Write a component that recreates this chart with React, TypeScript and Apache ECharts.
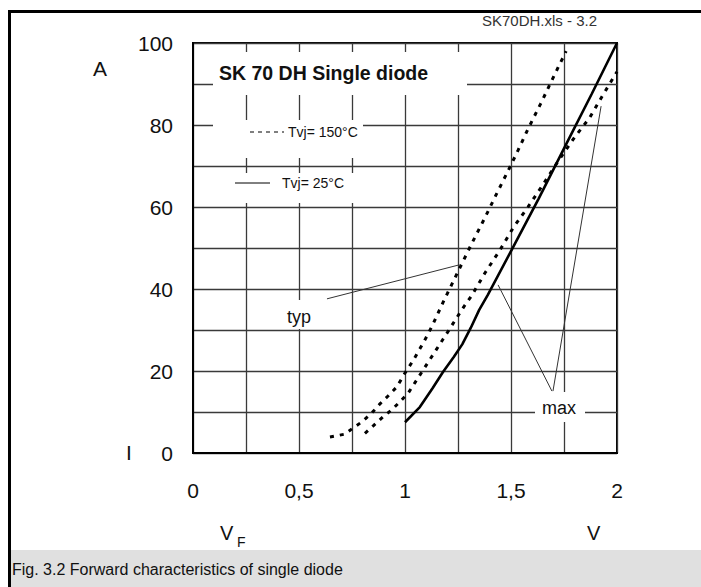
import React, { useEffect, useRef } from "react";
import * as echarts from "echarts";

// Axis ticks (labels shown only for these)
const xTickLabels = [0, 0.5, 1, 1.5, 2];
const yTickLabels = [0, 20, 40, 60, 80, 100];

// Tvj = 25 °C, max (solid)
const solid25V = [1.0, 1.07, 1.13, 1.18, 1.23, 1.27, 1.31, 1.35, 1.39, 1.51, 1.63, 1.755, 1.88, 2.0];
const solid25I = [7.5, 11.2, 15.8, 19.8, 23.4, 26.5, 30.5, 34.9, 38.5, 50.2, 62, 74.8, 87.5, 100];

// Tvj = 150 °C, typ (dotted, left)
const typ150V = [0.646, 0.717, 0.755, 0.797, 0.844, 0.882, 0.92, 0.961, 1.0, 1.04, 1.07, 1.094, 1.13, 1.18, 1.26, 1.316, 1.377, 1.43, 1.486, 1.533, 1.58, 1.64, 1.69, 1.72, 1.76];
const typ150I = [3.9, 4.6, 6.1, 7.6, 9.8, 12.0, 13.9, 16.1, 19.5, 22.7, 25.4, 27.6, 31.2, 36.8, 45.3, 51.2, 57.4, 63, 68.8, 73.8, 79, 85.2, 90.6, 93.8, 98];

// Tvj = 150 °C, max (dotted, right)
const max150V = [0.811, 0.85, 0.896, 0.937, 0.976, 1.015, 1.04, 1.07, 1.11, 1.14, 1.18, 1.21, 1.244, 1.283, 1.316, 1.377, 1.448, 1.51, 1.58, 1.65, 1.72, 1.8, 1.87, 1.93, 2.0];
const max150I = [4.8, 6.6, 8.8, 10.5, 12.5, 14.6, 16.6, 19.0, 22.2, 24.6, 27.8, 30.2, 33.0, 36.1, 38.5, 43.9, 49.5, 54.9, 60, 65.4, 71, 77, 81.7, 87, 93];

// leader lines for annotations (data coordinates)
const typLeader = [[0.632, 37.6], [1.257, 45.9]];
const maxLeader1 = [[1.439, 41.0], [1.693, 15.1]];
const maxLeader2 = [[1.698, 15.1], [1.925, 84.6]];

const FONT = "'Liberation Sans', Arial, Helvetica, sans-serif";

const zip = (xs: number[], ys: number[]) => xs.map((x, i) => [x, ys[i]]);

export default function App() {
  const ref = useRef<HTMLDivElement>(null);

  useEffect(() => {
    if (!ref.current) return;
    const chart = echarts.init(ref.current, undefined, { renderer: "svg" });

    const txt = (
      text: string,
      x: number,
      y: number,
      size: number,
      extra: any = {}
    ) => ({
      type: "text",
      x,
      y,
      z: 10,
      style: {
        text,
        fill: "#111",
        font: `${extra.weight || "normal"} ${size}px ${FONT}`,
        align: extra.align || "left",
        verticalAlign: "middle",
        ...(extra.fill ? { fill: extra.fill } : {}),
      },
    });

    const whiteBox = (x: number, y: number, w: number, h: number) => ({
      type: "rect",
      z: 5,
      shape: { x, y, width: w, height: h },
      style: { fill: "#fff" },
    });

    const dotted = { type: [4, 6] as any, width: 3, color: "#000", cap: "butt" as any };

    chart.setOption({
      animation: false,
      backgroundColor: "#fff",
      textStyle: { fontFamily: FONT },
      grid: {
        left: 193,
        top: 43,
        width: 424,
        height: 410,
        show: true,
        borderColor: "#000",
        borderWidth: 2,
        backgroundColor: "transparent",
      },
      xAxis: {
        type: "value",
        min: 0,
        max: 2,
        interval: 0.25,
        axisLine: { show: true, lineStyle: { color: "#000", width: 2 } },
        axisTick: { show: false },
        splitLine: { show: true, lineStyle: { color: "#3a3a3a", width: 1.3 } },
        axisLabel: {
          margin: 27,
          fontSize: 21,
          color: "#111",
          fontFamily: FONT,
          formatter: (v: number) =>
            xTickLabels.some((t) => Math.abs(t - v) < 1e-6) ? String(v).replace(".", ",") : "",
        },
      },
      yAxis: {
        type: "value",
        min: 0,
        max: 100,
        interval: 10,
        axisLine: { show: true, lineStyle: { color: "#000", width: 2 } },
        axisTick: { show: false },
        splitLine: { show: true, lineStyle: { color: "#3a3a3a", width: 1.3 } },
        axisLabel: {
          margin: 20,
          fontSize: 21,
          color: "#111",
          fontFamily: FONT,
          formatter: (v: number) =>
            yTickLabels.some((t) => Math.abs(t - v) < 1e-6) ? String(v) : "",
        },
      },
      series: [
        {
          name: "Tvj= 25°C max",
          type: "line",
          data: zip(solid25V, solid25I),
          showSymbol: false,
          lineStyle: { color: "#000", width: 2.6 },
          z: 3,
        },
        {
          name: "Tvj= 150°C typ",
          type: "line",
          data: zip(typ150V, typ150I),
          showSymbol: false,
          lineStyle: dotted,
          z: 3,
        },
        {
          name: "Tvj= 150°C max",
          type: "line",
          data: zip(max150V, max150I),
          showSymbol: false,
          lineStyle: dotted,
          z: 3,
        },
        {
          type: "line",
          data: typLeader,
          showSymbol: false,
          silent: true,
          lineStyle: { color: "#333", width: 1 },
          z: 3,
        },
        {
          type: "line",
          data: maxLeader1,
          showSymbol: false,
          silent: true,
          lineStyle: { color: "#333", width: 1 },
          z: 3,
        },
        {
          type: "line",
          data: maxLeader2,
          showSymbol: false,
          silent: true,
          lineStyle: { color: "#333", width: 1 },
          z: 3,
        },
      ],
      graphic: [
        // frame
        { type: "rect", z: 10, shape: { x: 8, y: 10, width: 693, height: 3 }, style: { fill: "#000" } },
        { type: "rect", z: 10, shape: { x: 8, y: 10, width: 3, height: 577 }, style: { fill: "#000" } },
        { type: "rect", z: 10, shape: { x: 11, y: 550, width: 690, height: 37 }, style: { fill: "#e0e0e0" } },
        txt("Fig. 3.2 Forward characteristics of single diode", 12, 569, 16),
        txt("SK70DH.xls - 3.2", 597, 20, 15, { align: "right", fill: "#333" }),
        // boxes that interrupt the grid
        whiteBox(213, 52, 254, 43),
        whiteBox(213, 120, 150, 38),
        whiteBox(213, 173, 150, 30),
        whiteBox(278, 300, 44, 29),
        whiteBox(535, 392, 50, 30),
        // title and legend
        txt("SK 70 DH Single diode", 219, 73, 19.5, { weight: "bold" }),
        {
          type: "line",
          z: 10,
          shape: { x1: 250, y1: 132, x2: 284, y2: 132 },
          style: { stroke: "#000", lineWidth: 1.2, lineDash: [4, 4] },
        },
        txt("Tvj= 150°C", 288, 132, 14),
        {
          type: "line",
          z: 10,
          shape: { x1: 235, y1: 183, x2: 270, y2: 183 },
          style: { stroke: "#000", lineWidth: 1 },
        },
        txt("Tvj= 25°C", 282, 183, 14),
        // annotations
        txt("typ", 287, 317, 18),
        txt("max", 542, 408, 18),
        // axis names
        txt("A", 93, 68, 21),
        txt("I", 126, 452, 21),
        txt("V", 220, 533, 20),
        txt("F", 237, 542, 14),
        txt("V", 587, 533, 20),
      ],
    });

    return () => chart.dispose();
  }, []);

  return (
    <div
      ref={ref}
      style={{ position: "fixed", left: 0, top: 0, width: 701, height: 587, background: "#fff" }}
    />
  );
}
